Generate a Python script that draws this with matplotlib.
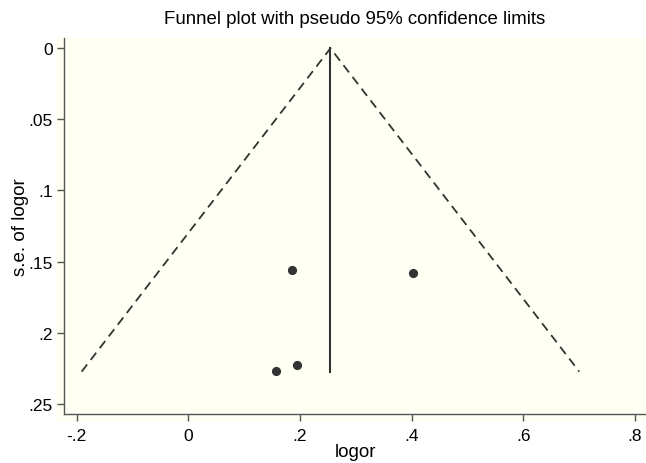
import matplotlib
matplotlib.use("Agg")
import matplotlib.pyplot as plt
from matplotlib.patches import Rectangle

# study estimates
logor = [0.186, 0.402, 0.157, 0.195]
se_logor = [0.156, 0.158, 0.227, 0.223]

# pooled estimate and max s.e. for the pseudo 95% limits
pooled = 0.2546
se_max = 0.2274
z = 1.96

xticks = [-0.2, 0, 0.2, 0.4, 0.6, 0.8]
xticklabels = ["-.2", "0", ".2", ".4", ".6", ".8"]
yticks = [0, 0.05, 0.1, 0.15, 0.2, 0.25]
yticklabels = ["0", ".05", ".1", ".15", ".2", ".25"]

plt.rcParams['font.family'] = ['Liberation Sans', 'DejaVu Sans']

W, H = 646, 464
cream = "#fffff4"
dark = "#333333"

fig = plt.figure(figsize=(W / 100, H / 100), dpi=100)
fig.patch.set_facecolor("white")
# plot region background (a bit larger than the axes, like Stata)
fig.patches.append(Rectangle((55 / W, 1 - 423 / H), 1 - 55 / W, (423 - 39) / H,
                             transform=fig.transFigure, facecolor=cream,
                             edgecolor="none", zorder=-5))

ax = fig.add_axes([64 / W, 1 - 415 / H, 1 - 64 / W, (415 - 39) / H])
ax.set_facecolor(cream)

# pseudo confidence limits
ax.plot([pooled - z * se_max, pooled, pooled + z * se_max], [se_max, 0, se_max],
        color=dark, lw=1.3, ls=(0, (5, 3.2)))
ax.plot([pooled, pooled], [0, se_max], color=dark, lw=1.5)
ax.plot(logor, se_logor, "o", color=dark, ms=5.6, mec=dark)

ax.set_xlim(-0.2227, 0.8198)
ax.set_ylim(0.2572, -0.00724)
ax.set_xticks(xticks)
ax.set_xticklabels(xticklabels)
ax.set_yticks(yticks)
ax.set_yticklabels(yticklabels)

for s in ["top", "right"]:
    ax.spines[s].set_visible(False)
for s in ["left", "bottom"]:
    ax.spines[s].set_color("#555555")
    ax.spines[s].set_linewidth(1.0)
ax.tick_params(direction="out", length=5, width=1.0, color="#555555",
               labelsize=12.5, labelcolor="black")
ax.tick_params(axis="x", pad=5)
ax.tick_params(axis="y", pad=3)

ax.set_xlabel("logor", fontsize=13.5, labelpad=0)
ax.set_ylabel("s.e. of logor", fontsize=13.5, labelpad=0)
fig.text((64 + 646) / 2 / W, 1 - 20 / H, "Funnel plot with pseudo 95% confidence limits",
         ha="center", va="center", fontsize=13.4)

fig.savefig("out.png", dpi=100)
